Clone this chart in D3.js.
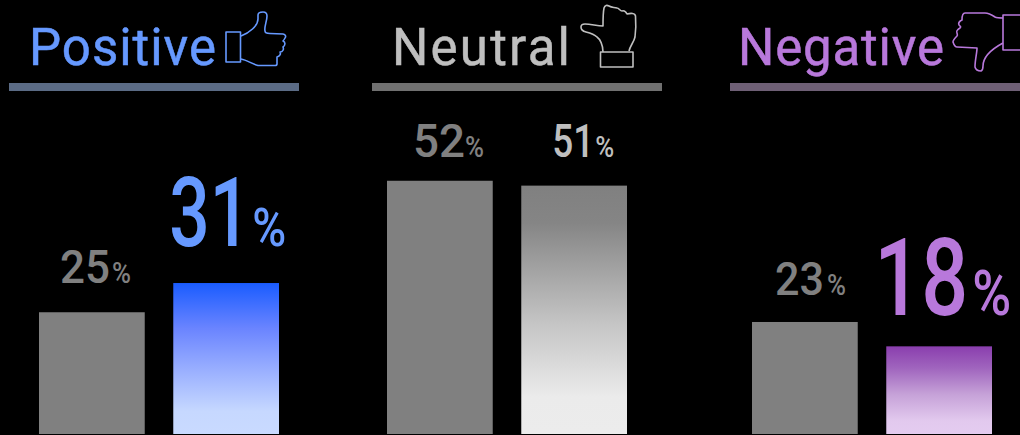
<!DOCTYPE html>
<html><head><meta charset="utf-8">
<script src="https://cdnjs.cloudflare.com/ajax/libs/d3/7.8.5/d3.min.js"></script>
<style>html,body{margin:0;padding:0;background:#000;overflow:hidden}svg{display:block}text{font-family:Roboto,sans-serif;font-weight:500}</style>
</head><body><div id="c"></div>
<script>
const categories = ["Positive","Neutral","Negative"];
const series = ["Before","After"];
const beforeValues = [25,52,23];
const afterValues = [31,51,18];

const W=1020,H=435,baseline=434;
const groupLeft=[9,372,730], ruleW=290;
const barShift=[30,15,22];
const titleColor=["#6699ff","#bfbfbf","#b878db"];
const ruleColor=["#5b6b85","#707070","#6e5f75"];
const titleX=[29,392,738], titleW=[187,178,206];
// label layout per [group][series]: digit offset from bar left, digit width, % offset, baseline gap above bar, sizes
const digitOff=[[21,-4],[26,31],[23,-12]];
const digitW=[[50,81],[52,42],[49,94]];
const pctOff=[[73,79],[78,74],[75,86]];
const pctW=[[19,34],[19,19],[19,39]];
const gapAbove=[[29,37],[24,29],[27,31]];
const digitSize=[[47,97],[47,47],[47,108]];
const pctSize=[[29,53],[29,29],[29,63]];
const labelColor=[["#808080","#6699ff"],["#808080","#bfbfbf"],["#808080","#b878db"]];
const stops=[
 [["0%","#1a5cff"],["30%","#6a84ff"],["55%","#95abff"],["85%","#c6d8ff"],["100%","#c9daff"]],
 [["0%","#808080"],["15%","#858585"],["55%","#c4c4c4"],["85%","#ebebeb"],["100%","#ececec"]],
 [["0%","#8a3eae"],["25%","#a065be"],["55%","#c6a2d8"],["85%","#e2c9ee"],["100%","#e4ccf0"]]
];
const icons=[
 {rect:[226,32,14.5,30],d:"M241,36C249,33 258,26 258,19L258,15C258,12 261,12 263,12C266,12 267,14 267,16C267,21 264,27 265,31C265,33 267,33.5 270,33.5L283,34C286,34.5 286,37 285,38C284,40 283,41 283,41C286,42 285,46 283,47C284,49 283,52 280,52C281,54 280,56 277,57L277,64C277,65 276,65.5 275,65.5L258,65.5C252,64 247,60 241,59"},
 {rect:[600.5,52,32.5,15],d:"M603,52C603,45 600,39 597,37C594,34 590,33 586,32C582,31 581,29 581,27C581,25 583,24 585,24C591,24 597,26 603,26C603,20 603,13 604,8C605,5 607,5 609,6C612,8 614,7 617,8C619,8 620,11 622,11C625,10 626,12 627,14C631,13 635,13 635.500,16C636,23 636,30 635,37C634,42 630,46 629,51"},
 {rect:[1003,15,20,35],d:"M1003,18C1000,18 997,18 995,17C992,15 989,13 985,13L965,13C963,13 962,15 962,20C960,21 958,23 959,25C961,27 961,27 960,28C957,30 956,31 957,33C957,34 958,35 957,36C955,38 953,40 953,42C954,45 956,47 957,47L977,48C977,53 975,60 975,67C976,71 979,71 981,71C983,70 983,68 983,66C983,58 990,50 1003,43"}
];

const svg=d3.select("#c").append("svg").attr("width",W).attr("height",H);
svg.append("rect").attr("width",W).attr("height",H).attr("fill","#000");
const defs=svg.append("defs");
stops.forEach((s,i)=>{
  const g=defs.append("linearGradient").attr("id","grad"+i).attr("x1",0).attr("y1",0).attr("x2",0).attr("y2",1);
  g.selectAll("stop").data(s).join("stop").attr("offset",d=>d[0]).attr("stop-color",d=>d[1]);
});

const y=d3.scaleLinear().domain([0,100]).range([baseline,baseline-487]);
const inner=d3.scaleBand().domain(series).range([0,240]).paddingInner(0.2125);

function fitted(g,str,x,ly,size,width,color){
  const t=g.append("text").text(str).attr("fill",color).attr("font-size",size);
  const sx=width/t.node().getComputedTextLength();
  t.attr("transform",`translate(${x},${ly}) scale(${sx},1)`);
  return t;
}

const groups=svg.selectAll("g.grp").data(categories).join("g").attr("class","grp");
groups.each(function(cat,i){
  const g=d3.select(this);
  g.append("text").text(cat).attr("x",titleX[i]).attr("y",65).attr("fill",titleColor[i]).attr("font-size",51)
    .attr("textLength",titleW[i]).attr("lengthAdjust","spacing")
    .style("font-weight",400).attr("stroke",titleColor[i]).attr("stroke-width",0.5);
  g.append("rect").attr("x",groupLeft[i]).attr("y",83).attr("width",ruleW).attr("height",8).attr("fill",ruleColor[i]);
  const ic=g.append("g").attr("fill","none").attr("stroke",titleColor[i]).attr("stroke-width",1.6).attr("stroke-linejoin","round");
  ic.append("rect").attr("x",icons[i].rect[0]).attr("y",icons[i].rect[1]).attr("width",icons[i].rect[2]).attr("height",icons[i].rect[3]);
  ic.append("path").attr("d",icons[i].d);
  const x0=groupLeft[i]+barShift[i];
  const vals=[beforeValues[i],afterValues[i]];
  series.forEach((s,j)=>{
    const v=vals[j], bx=x0+inner(s), bw=inner.bandwidth();
    g.append("rect").attr("x",bx).attr("y",y(v)).attr("width",bw).attr("height",y(0)-y(v))
      .attr("fill",j===0?"#808080":`url(#grad${i})`);
    const ly=y(v)-gapAbove[i][j];
    fitted(g,String(v),bx+digitOff[i][j],ly,digitSize[i][j],digitW[i][j],labelColor[i][j]);
    fitted(g,"%",bx+pctOff[i][j],ly,pctSize[i][j],pctW[i][j],labelColor[i][j]);
  });
});
</script></body></html>
